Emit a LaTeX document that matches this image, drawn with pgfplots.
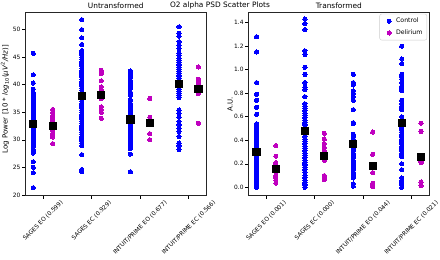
\documentclass[border=0pt]{standalone}
\usepackage{fontspec}
\setmainfont{DejaVu Sans}
\usepackage{graphicx}
\usepackage{pgfplots}
\usepackage{pgfplotstable}
\pgfplotsset{compat=1.18}
\definecolor{cblue}{rgb}{0,0,1}
\definecolor{cmag}{rgb}{0.75,0,0.75}

\pgfplotstableread{
x y
-0.2 45.7
-0.2 41.8
-0.2 40.3
-0.2 39.2
-0.2 38.6
-0.2 38.2
-0.2 37.9
-0.2 37.5
-0.2 37.2
-0.2 36.9
-0.2 36.6
-0.2 36.3
-0.2 36.0
-0.2 35.7
-0.2 35.4
-0.2 35.1
-0.2 34.8
-0.2 34.5
-0.2 34.2
-0.2 33.9
-0.2 33.6
-0.2 33.3
-0.2 33.0
-0.2 32.7
-0.2 32.4
-0.2 32.1
-0.2 31.8
-0.2 31.5
-0.2 31.2
-0.2 30.9
-0.2 30.6
-0.2 30.3
-0.2 30.0
-0.2 29.7
-0.2 29.4
-0.2 29.1
-0.2 28.8
-0.2 28.3
-0.2 27.9
-0.2 27.6
-0.2 26.0
-0.2 25.0
-0.2 24.0
-0.2 21.3
0.8 51.8
0.8 50.0
0.8 48.5
0.8 47.3
0.8 46.2
0.8 45.8
0.8 45.4
0.8 45.0
0.8 44.6
0.8 44.2
0.8 43.8
0.8 43.4
0.8 43.0
0.8 42.6
0.8 42.2
0.8 41.8
0.8 41.4
0.8 41.0
0.8 40.6
0.8 40.2
0.8 39.8
0.8 39.4
0.8 39.0
0.8 38.6
0.8 38.2
0.8 37.8
0.8 37.4
0.8 37.0
0.8 36.6
0.8 36.2
0.8 35.8
0.8 35.4
0.8 35.0
0.8 34.6
0.8 34.2
0.8 33.8
0.8 33.4
0.8 33.0
0.8 32.6
0.8 32.2
0.8 31.8
0.8 31.4
0.8 31.0
0.8 30.6
0.8 30.2
0.8 29.8
0.8 29.4
0.8 28.9
0.8 27.3
0.8 24.6
0.8 24.2
1.8 42.5
1.8 42.1
1.8 41.7
1.8 41.3
1.8 40.8
1.8 40.4
1.8 39.9
1.8 39.4
1.8 38.6
1.8 38.1
1.8 37.2
1.8 36.6
1.8 36.1
1.8 35.7
1.8 35.2
1.8 34.8
1.8 34.4
1.8 34.0
1.8 33.6
1.8 33.2
1.8 32.8
1.8 32.4
1.8 32.0
1.8 31.6
1.8 31.2
1.8 30.8
1.8 30.4
1.8 30.0
1.8 29.6
1.8 29.2
1.8 28.8
1.8 28.4
1.8 27.4
1.8 24.2
2.8 50.5
2.8 49.3
2.8 48.8
2.8 47.8
2.8 47.2
2.8 46.6
2.8 45.7
2.8 45.3
2.8 44.8
2.8 44.4
2.8 44.0
2.8 43.6
2.8 43.2
2.8 42.8
2.8 42.4
2.8 42.0
2.8 41.6
2.8 41.2
2.8 40.8
2.8 40.4
2.8 40.0
2.8 39.6
2.8 39.2
2.8 38.8
2.8 38.4
2.8 38.0
2.8 37.7
2.8 35.4
2.8 34.8
2.8 34.1
2.8 33.3
2.8 32.7
2.8 32.1
2.8 31.5
2.8 30.6
2.8 29.4
2.8 28.9
2.8 28.2
}\ctrlL

\pgfplotstableread{
x y
0.2 35.5
0.2 35.0
0.2 34.4
0.2 34.1
0.2 33.7
0.2 33.3
0.2 32.9
0.2 32.4
0.2 32.0
0.2 31.6
0.2 31.2
0.2 30.8
0.2 30.5
0.2 29.3
1.2 42.6
1.2 42.3
1.2 42.0
1.2 40.7
1.2 39.6
1.2 39.1
1.2 38.6
1.2 38.0
1.2 37.5
1.2 36.0
1.2 35.5
1.2 35.0
1.2 33.9
2.2 37.5
2.2 34.1
2.2 33.6
2.2 33.0
2.2 32.8
2.2 31.1
2.2 30.0
3.2 43.2
3.2 41.0
3.2 40.6
3.2 40.2
3.2 38.7
3.2 38.4
3.2 33.0
}\delL

\pgfplotstableread{
x y
-0.2 32.9
0.2 32.5
0.8 38.0
1.2 38.2
1.8 33.7
2.2 33.1
2.8 40.1
3.2 39.2
}\meanL

\pgfplotstableread{
x y
-0.2 1.28
-0.2 1.15
-0.2 0.89
-0.2 0.79
-0.2 0.74
-0.2 0.68
-0.2 0.62
-0.2 0.54
-0.2 0.52
-0.2 0.50
-0.2 0.48
-0.2 0.46
-0.2 0.44
-0.2 0.42
-0.2 0.40
-0.2 0.38
-0.2 0.36
-0.2 0.34
-0.2 0.32
-0.2 0.30
-0.2 0.28
-0.2 0.26
-0.2 0.24
-0.2 0.22
-0.2 0.20
-0.2 0.18
-0.2 0.16
-0.2 0.14
-0.2 0.12
-0.2 0.10
-0.2 0.08
-0.2 0.06
-0.2 0.04
-0.2 0.02
-0.2 0.00
0.8 1.43
0.8 1.39
0.8 1.34
0.8 1.16
0.8 1.13
0.8 1.02
0.8 0.96
0.8 0.89
0.8 0.85
0.8 0.83
0.8 0.77
0.8 0.71
0.8 0.69
0.8 0.67
0.8 0.65
0.8 0.63
0.8 0.61
0.8 0.59
0.8 0.57
0.8 0.55
0.8 0.53
0.8 0.51
0.8 0.49
0.8 0.47
0.8 0.45
0.8 0.43
0.8 0.41
0.8 0.39
0.8 0.37
0.8 0.35
0.8 0.33
0.8 0.31
0.8 0.29
0.8 0.27
0.8 0.25
0.8 0.23
0.8 0.21
0.8 0.19
0.8 0.17
0.8 0.15
0.8 0.13
0.8 0.10
0.8 0.08
0.8 0.06
0.8 0.04
0.8 0.02
0.8 0.00
1.8 0.96
1.8 0.89
1.8 0.87
1.8 0.82
1.8 0.80
1.8 0.77
1.8 0.74
1.8 0.66
1.8 0.55
1.8 0.54
1.8 0.45
1.8 0.43
1.8 0.41
1.8 0.39
1.8 0.37
1.8 0.35
1.8 0.33
1.8 0.31
1.8 0.29
1.8 0.27
1.8 0.25
1.8 0.23
1.8 0.21
1.8 0.19
1.8 0.17
1.8 0.15
1.8 0.13
1.8 0.11
1.8 0.09
1.8 0.08
1.8 0.03
1.8 0.01
2.8 1.20
2.8 1.09
2.8 1.05
2.8 0.96
2.8 0.94
2.8 0.92
2.8 0.89
2.8 0.86
2.8 0.84
2.8 0.82
2.8 0.74
2.8 0.71
2.8 0.69
2.8 0.67
2.8 0.66
2.8 0.60
2.8 0.55
2.8 0.51
2.8 0.49
2.8 0.47
2.8 0.45
2.8 0.43
2.8 0.41
2.8 0.39
2.8 0.37
2.8 0.35
2.8 0.33
2.8 0.31
2.8 0.29
2.8 0.27
2.8 0.26
2.8 0.20
2.8 0.15
2.8 0.08
2.8 0.06
2.8 0.04
2.8 0.02
2.8 0.00
}\ctrlR

\pgfplotstableread{
x y
0.2 0.355
0.2 0.265
0.2 0.21
0.2 0.19
0.2 0.16
0.2 0.13
0.2 0.10
0.2 0.08
0.2 0.06
0.2 0.035
1.2 0.46
1.2 0.41
1.2 0.37
1.2 0.34
1.2 0.31
1.2 0.28
1.2 0.25
1.2 0.23
1.2 0.10
1.2 0.08
1.2 0.065
2.2 0.47
2.2 0.28
2.2 0.125
2.2 0.035
2.2 0.02
2.2 0.005
3.2 0.545
3.2 0.475
3.2 0.22
3.2 0.21
3.2 0.045
3.2 0.015
}\delR

\pgfplotstableread{
x y
-0.2 0.300
0.2 0.158
0.8 0.482
1.2 0.263
1.8 0.370
2.2 0.180
2.8 0.547
3.2 0.260
}\meanR

\pgfplotsset{
  myaxis/.style={
    scale only axis,
    height=183.7pt,
    xmin=-0.37, xmax=3.37,
    xtick={0,1,2,3},
    tick pos=left,
    tick align=outside,
    major tick length=3pt,
    tick style={black, line width=0.5pt},
    axis line style={black!85, line width=0.6pt},
    /pgf/number format/assume math mode=true,
    tick label style={font=\fontsize{5.9}{7}\selectfont},
    xticklabel style={anchor=north, inner sep=1pt},
    yticklabel style={inner sep=1.5pt},
    clip=false,
  },
  ctrl/.style={only marks, mark=*, mark size=2.1pt, mark options={fill=cblue, draw=cblue, line width=0pt}},
  deli/.style={only marks, mark=*, mark size=2.1pt, mark options={fill=cmag, draw=cmag, line width=0pt}},
  meanm/.style={only marks, mark=square*, mark size=3.6pt, mark options={fill=black, draw=black, line width=0pt}},
}

\begin{document}
\begin{tikzpicture}[x=1pt,y=1pt]
\begin{axis}[myaxis,
  at={(25pt,64.3pt)}, anchor=south west,
  width=181.7pt,
  ymin=19.85, ymax=53.2,
  ytick={20,25,30,35,40,45,50},
  xticklabels={\rotatebox{45}{SAGES EO (0.599)},\rotatebox{45}{SAGES EC (0.929)},\rotatebox{45}{INTUIT/PRIME EO (0.677)},\rotatebox{45}{INTUIT/PRIME EC (0.566)}},
]
\addplot[ctrl] table[x=x,y=y] {\ctrlL};
\addplot[deli] table[x=x,y=y] {\delL};
\addplot[meanm] table[x=x,y=y] {\meanL};
\end{axis}

\begin{axis}[myaxis,
  at={(248.3pt,64.3pt)}, anchor=south west,
  width=181pt,
  ymin=-0.071, ymax=1.49,
  ytick={0,0.2,0.4,0.6,0.8,1.0,1.2,1.4},
  yticklabel style={/pgf/number format/.cd, fixed, fixed zerofill, precision=1},
  xticklabels={\rotatebox{45}{SAGES EO (0.001)},\rotatebox{45}{SAGES EC (0.000)},\rotatebox{45}{INTUIT/PRIME EO (0.044)},\rotatebox{45}{INTUIT/PRIME EC (0.021)}},
  legend style={at={(rel axis cs:0.988,0.99)}, anchor=north east, draw=black!20, rounded corners=2pt,
    font=\fontsize{6.2}{7.4}\selectfont, inner xsep=2.5pt, inner ysep=2pt, row sep=1.6pt, fill=white},
  legend cell align=left,
  legend image code/.code={\path[draw=none,fill=none] (-7pt,-2pt) rectangle (5pt,2pt); \draw[#1] plot coordinates {(0pt,0pt)};},
]
\addplot[ctrl] table[x=x,y=y] {\ctrlR};
\addlegendentry{Control}
\addplot[deli] table[x=x,y=y] {\delR};
\addlegendentry{Delirium}
\addplot[meanm, forget plot] table[x=x,y=y] {\meanR};
\end{axis}

\node[font=\fontsize{7.4}{9}\selectfont] at (115.8pt,254.5pt) {Untransformed};
\node[font=\fontsize{7.4}{9}\selectfont] at (220pt,255pt) {O2 alpha PSD Scatter Plots};
\node[font=\fontsize{7.4}{9}\selectfont] at (338.8pt,254.5pt) {Transformed};
\node[rotate=90, font=\fontsize{7}{8}\selectfont] at (5pt,161pt) {Log Power [10 * \textit{log}\textsubscript{10}(\textit{μV}\textsuperscript{2}\textit{/Hz})]};
\node[rotate=90, font=\fontsize{7}{8}\selectfont] at (230pt,156pt) {A.U.};

\pgfresetboundingbox
\useasboundingbox (0,0) rectangle (440pt,260pt);
\end{tikzpicture}
\end{document}
